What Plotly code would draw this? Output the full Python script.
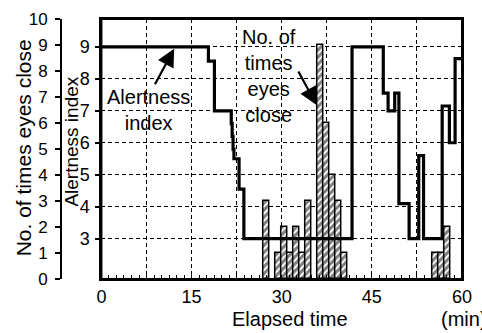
import plotly.graph_objects as go

# ---------------- data ----------------
# Alertness index (step function: value holds from each time until the next)
alert_time = [0, 17.8, 18.8, 21.6, 21.75, 21.9, 22.05, 22.9, 23.7, 41.7, 46.9,
              47.7, 48.8, 49.5, 51.2, 52.8, 53.6, 56.7, 57.9, 58.85, 60]
alert_value = [9.0, 8.55, 7.0, 6.6, 6.2, 5.8, 5.5, 4.55, 3.0, 9.0, 7.55,
               7.0, 7.55, 4.1, 3.0, 5.6, 3.0, 7.15, 6.0, 8.63, 8.63]

# Number of times eyes close, per one-minute bin (bin centres)
eye_time = [27.5, 29.5, 30.5, 31.5, 32.5, 33.5, 34.5, 36.5, 37.5, 38.5, 39.5,
            40.5, 55.5, 56.5, 57.5]
eye_count = [3, 1, 2, 1, 2, 1, 3, 9, 6, 4, 3, 1, 1, 1, 2]

x_ticks = [0, 7.5, 15, 22.5, 30, 37.5, 45, 52.5, 60]
x_ticktext = ["0", "", "15", "", "30", "", "45", "", "60"]
alert_ticks = [3, 4, 5, 6, 7, 8, 9]
count_ticks = list(range(0, 11))
alert_range = [1.74, 9.87]

FONT = "Liberation Sans, Arial, Helvetica, sans-serif"
W, H = 482, 333
ML, MR, MT, MB = 10, 17, 14, 54
PW = W - ML - MR
PH = H - MT - MB


def px_x(px):
    return (px - ML) / PW


def px_y(py):
    return (H - MB - py) / PH


fig = go.Figure()

# bars: count axis (y2, overlay)
fig.add_trace(go.Bar(
    x=eye_time, y=eye_count, width=1.0,
    xaxis="x", yaxis="y2",
    marker=dict(color="white",
                line=dict(color="black", width=1.5),
                pattern=dict(shape="/", fgcolor="black", bgcolor="white",
                             size=5, solidity=0.6)),
    showlegend=False, hoverinfo="skip",
))

# alertness line: y3 overlay (same scale as y), drawn on top of the bars
fig.add_trace(go.Scatter(
    x=alert_time, y=alert_value, mode="lines",
    line=dict(color="black", width=3.2, shape="hv"),
    xaxis="x", yaxis="y3", showlegend=False, hoverinfo="skip",
))

dash = "4px,3px"
fig.update_layout(
    width=W, height=H,
    margin=dict(l=ML, r=MR, t=MT, b=MB, pad=0),
    paper_bgcolor="white", plot_bgcolor="white",
    font=dict(family=FONT, color="black", size=18),
    bargap=0,
    xaxis=dict(
        domain=[px_x(98), 1], range=[0, 60], anchor="y",
        tickmode="array", tickvals=x_ticks, ticktext=x_ticktext,
        ticks="inside", ticklen=4, tickwidth=1, tickcolor="black",
        showgrid=True, gridcolor="black", gridwidth=1, griddash=dash,
        minor=dict(tickmode="linear", tick0=0, dtick=1.25, ticks="inside",
                   ticklen=4, tickwidth=1, tickcolor="black", showgrid=False),
        showline=True, linecolor="black", linewidth=2, mirror=True,
        zeroline=False, tickfont=dict(size=18), ticklabelstandoff=0,
    ),
    yaxis=dict(
        anchor="x", range=alert_range,
        tickmode="array", tickvals=alert_ticks, ticks="outside", ticklen=4,
        tickwidth=1.5, tickcolor="black",
        showgrid=True, gridcolor="black", gridwidth=1, griddash=dash,
        zeroline=False, showline=True, linecolor="black", linewidth=2,
        mirror=True, tickfont=dict(size=18), ticklabelstandoff=2,
    ),
    yaxis2=dict(
        overlaying="y", range=[0, 10], anchor="free", position=px_x(57),
        side="left",
        tickmode="array", tickvals=count_ticks, ticks="outside", ticklen=5,
        tickwidth=1.5, tickcolor="black",
        showgrid=False, zeroline=False,
        showline=True, linecolor="black", linewidth=2,
        tickfont=dict(size=17), ticklabelstandoff=4,
    ),
    yaxis3=dict(
        overlaying="y", range=alert_range, anchor="x", visible=False,
        showgrid=False, zeroline=False,
    ),
    shapes=[dict(type="rect", xref="x domain", yref="y domain",
                 x0=0, x1=1, y0=0, y1=1, layer="above",
                 line=dict(color="black", width=2), fillcolor="rgba(0,0,0,0)")],
)

annotations = [
    dict(text="No. of times eyes close", xref="paper", yref="paper",
         x=px_x(19), y=px_y(145), textangle=-90, showarrow=False,
         xanchor="center", yanchor="middle", font=dict(size=21)),
    dict(text="Alertness index", xref="paper", yref="paper",
         x=px_x(68), y=px_y(139), textangle=-90, showarrow=False,
         xanchor="center", yanchor="middle", font=dict(size=19)),
    dict(text="Elapsed time", xref="paper", yref="paper",
         x=px_x(290), y=px_y(320), showarrow=False,
         xanchor="center", yanchor="middle", font=dict(size=20)),
    dict(text="(min)", xref="x", yref="paper",
         x=56.2, y=px_y(320), showarrow=False,
         xanchor="left", yanchor="middle", font=dict(size=20)),
    dict(text="Alertness<br>index", xref="x", yref="y",
         x=7.85, y=7.02, showarrow=False, align="center",
         xanchor="center", yanchor="middle", font=dict(size=20)),
    dict(text="No. of<br>times<br>eyes<br>close", xref="x", yref="y",
         x=27.8, y=8.1, showarrow=False, align="center",
         xanchor="center", yanchor="middle", font=dict(size=20)),
    dict(text="", xref="x", yref="y", x=12.1, y=8.94,
         ax=-20, ay=37, showarrow=True, arrowhead=2, arrowsize=1.6,
         arrowwidth=2.2, arrowcolor="black"),
    dict(text="", xref="x", yref="y", x=35.8, y=7.18,
         ax=-19, ay=-35, showarrow=True, arrowhead=2, arrowsize=1.6,
         arrowwidth=2.2, arrowcolor="black"),
]
fig.update_layout(annotations=annotations)

fig.write_html(
    "out.html",
    config={"displayModeBar": False},
    post_script="document.body.style.margin='0';document.body.style.padding='0';",
)
